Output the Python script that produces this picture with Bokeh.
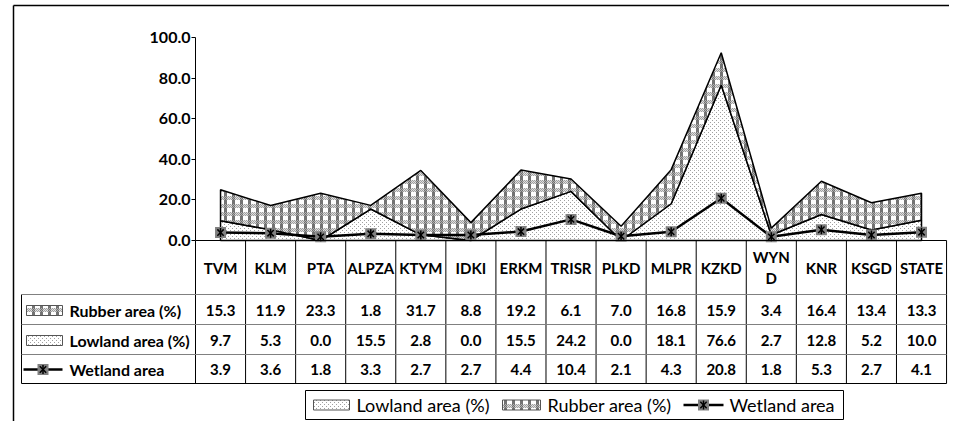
import zlib, struct, base64, math
import numpy as np
from bokeh.plotting import figure
from bokeh.models import (Range1d, LinearAxis, FixedTicker, NumeralTickFormatter,
                          ImageURLTexture)
from bokeh.core.properties import value
from bokeh.embed import file_html
from bokeh.resources import INLINE

# ---------------- data ----------------
categories = ["TVM", "KLM", "PTA", "ALPZA", "KTYM", "IDKI", "ERKM", "TRISR",
              "PLKD", "MLPR", "KZKD", "WYND", "KNR", "KSGD", "STATE"]
header_labels = ["TVM", "KLM", "PTA", "ALPZA", "KTYM", "IDKI", "ERKM", "TRISR",
                 "PLKD", "MLPR", "KZKD", "WYN\nD", "KNR", "KSGD", "STATE"]
rubber = [15.3, 11.9, 23.3, 1.8, 31.7, 8.8, 19.2, 6.1, 7.0, 16.8, 15.9, 3.4, 16.4, 13.4, 13.3]
lowland = [9.7, 5.3, 0.0, 15.5, 2.8, 0.0, 15.5, 24.2, 0.0, 18.1, 76.6, 2.7, 12.8, 5.2, 10.0]
wetland = [3.9, 3.6, 1.8, 3.3, 2.7, 2.7, 4.4, 10.4, 2.1, 4.3, 20.8, 1.8, 5.3, 2.7, 4.1]
series_names = ["Rubber area (%)", "Lowland area (%)", "Wetland area"]
legend_labels = ["Lowland area (%)", "Rubber area (%)", "Wetland area"]
y_ticks = [0, 20, 40, 60, 80, 100]

# ---------------- geometry (canvas pixels -> data units) ----------------
W, H = 949, 421
X0 = 195          # canvas px of category boundary 0
DX = 50.07        # px per category
Y0 = 240          # canvas px (from top) of value 0
DY = 2.03         # px per value unit


def ux(px):
    return (px - X0) / DX


def vy(py):
    return (Y0 - py) / DY


def png_uri(rows):
    h = len(rows)
    w = len(rows[0])
    raw = b"".join(b"\x00" + bytes([c for px in row for c in px]) for row in rows)

    def chunk(t, d):
        c = struct.pack(">I", len(d)) + t + d
        return c + struct.pack(">I", zlib.crc32(t + d) & 0xffffffff)
    png = (b"\x89PNG\r\n\x1a\n" + chunk(b"IHDR", struct.pack(">IIBBBBB", w, h, 8, 2, 0, 0, 0))
           + chunk(b"IDAT", zlib.compress(raw)) + chunk(b"IEND", b""))
    return "data:image/png;base64," + base64.b64encode(png).decode()


def g(v):
    return (v, v, v)


# plaid texture for rubber: dark vertical blocks, dotted light horizontal bands
rub_tile = []
for yy in range(8):
    row = []
    for xx in range(8):
        dark_col = xx < 3
        band = yy >= 4
        chk = (xx + yy) % 2 == 0
        if not band:
            row.append(g(115) if dark_col else g(255))
        else:
            if dark_col:
                row.append(g(110) if chk else g(175))
            else:
                row.append(g(160) if chk else g(225))
    rub_tile.append(row)
low_tile = []
for yy in range(4):
    row = []
    for xx in range(4):
        row.append(g(160) if (xx, yy) in [(0, 0), (2, 2)] else g(255))
    low_tile.append(row)

rub_tex = ImageURLTexture(url=png_uri(rub_tile))
low_tex = ImageURLTexture(url=png_uri(low_tile))

n = len(categories)
xc = np.arange(n) + 0.5
low_arr = np.array(lowland)
top_arr = low_arr + np.array(rubber)

p = figure(width=W, height=H, output_backend="svg", toolbar_location=None,
           x_range=Range1d(ux(0), ux(W)), y_range=Range1d(vy(H), vy(0)),
           x_axis_type=None, y_axis_type=None, min_border=0)
p.outline_line_color = None
p.background_fill_color = "white"
p.border_fill_color = "white"
p.xgrid.visible = False
p.ygrid.visible = False

FONT = "Lato"

# ---------------- areas ----------------
p.patch(list(xc) + list(xc[::-1]), list(low_arr) + [0.0] * n,
        fill_color="white", hatch_pattern="lowtex",
        hatch_extra={"lowtex": low_tex}, line_color="black", line_width=1.5)
p.patch(list(xc) + list(xc[::-1]), list(top_arr) + list(low_arr[::-1]),
        fill_color="white", hatch_pattern="rubtex",
        hatch_extra={"rubtex": rub_tex}, line_color="black", line_width=1.5)


def wet_marker(xs, ys):
    p.scatter(xs, ys, marker="square", size=11, fill_color="#808080", line_color=None)
    p.scatter(xs, ys, marker="x", size=9, line_color="black", line_width=1.5)
    p.scatter(xs, ys, marker="dash", size=9, angle=math.pi / 2, line_color="black", line_width=1.5)


# wetland line
p.line(xc, wetland, line_color="black", line_width=2.5)
wet_marker(xc, wetland)

# ---------------- y axis ----------------
yax = LinearAxis(fixed_location=0, bounds=(0, 100), ticker=FixedTicker(ticks=y_ticks),
                 formatter=NumeralTickFormatter(format="0.0"))
yax.axis_line_color = "black"
yax.major_tick_line_color = "black"
yax.major_tick_out = 4
yax.major_tick_in = 0
yax.minor_tick_out = 0
yax.minor_tick_in = 0
yax.major_label_standoff = 1
yax.major_label_text_font = FONT
yax.major_label_text_font_style = "bold"
yax.major_label_text_font_size = "16px"
yax.major_label_text_color = "black"
p.add_layout(yax, "left")

# ---------------- data table ----------------
row_lines = [vy(294), vy(324), vy(354), vy(383)]
head_c = vy(267)
row_c = [vy(310), vy(340), vy(369)]
left_x = ux(21)

p.segment(x0=[0], y0=[0], x1=[n], y1=[0], line_color="black", line_width=1)
p.segment(x0=list(range(n + 1)), y0=[0] * (n + 1), x1=list(range(n + 1)),
          y1=[row_lines[-1]] * (n + 1), line_color="black", line_width=1)
p.segment(x0=[left_x], y0=[row_lines[0]], x1=[left_x], y1=[row_lines[-1]],
          line_color="black", line_width=1)
p.segment(x0=[left_x] * 3, y0=row_lines[:3], x1=[n] * 3, y1=row_lines[:3],
          line_color="#808080", line_width=1)
p.segment(x0=[left_x], y0=[row_lines[3]], x1=[n], y1=[row_lines[3]],
          line_color="black", line_width=1)

tstyle = dict(text_font=value(FONT), text_font_style="bold", text_font_size="15px",
              text_color="black", text_align="center", text_baseline="middle")
p.text(x=list(xc), y=[head_c] * n, text=header_labels, **tstyle)
for vals, yc in zip([rubber, lowland, wetland], row_c):
    p.text(x=list(xc), y=[yc] * n, text=["%.1f" % v for v in vals], **tstyle)

lstyle = dict(tstyle)
lstyle["text_align"] = "left"
lstyle["text_font_size"] = "16px"
p.text(x=[ux(69)] * 3, y=row_c, text=series_names, **lstyle)

kh = 10 / DY


def key_box(x0px, x1px, yc, pattern, tex):
    p.quad(left=[ux(x0px)], right=[ux(x1px)], bottom=[yc - kh / 2], top=[yc + kh / 2],
           fill_color="white", hatch_pattern=value(pattern), hatch_extra={pattern: tex},
           line_color="#555555", line_width=1)


def key_line(x0px, x1px, yc):
    p.segment(x0=[ux(x0px)], y0=[yc], x1=[ux(x1px)], y1=[yc], line_color="black", line_width=2.5)
    wet_marker([ux((x0px + x1px) / 2)], [yc])


key_box(26, 62, row_c[0], "rubtex", rub_tex)
key_box(26, 62, row_c[1], "lowtex", low_tex)
key_line(23, 62, row_c[2])

# outer chart border (cropped)
p.segment(x0=[ux(13)], y0=[vy(5)], x1=[ux(W)], y1=[vy(5)], line_color="black", line_width=1.5)
p.segment(x0=[ux(13)], y0=[vy(5)], x1=[ux(13)], y1=[vy(H)], line_color="black", line_width=1.5)

# ---------------- legend (drawn as a boxed key row) ----------------
lg_top, lg_bot = 390, 419
lg_c = vy((lg_top + lg_bot) / 2)
p.quad(left=[ux(305)], right=[ux(843)], top=[vy(lg_top)], bottom=[vy(lg_bot)],
       fill_color="white", line_color="black", line_width=1)
key_box(313, 349, lg_c, "lowtex", low_tex)
key_box(502, 540, lg_c, "rubtex", rub_tex)
key_line(683, 723, lg_c)
p.text(x=[ux(356), ux(547), ux(729)], y=[lg_c] * 3, text=legend_labels,
       text_font=value(FONT), text_font_size="18px", text_color="black",
       text_align="left", text_baseline="middle")

open("out.html", "w").write(file_html(p, INLINE))
